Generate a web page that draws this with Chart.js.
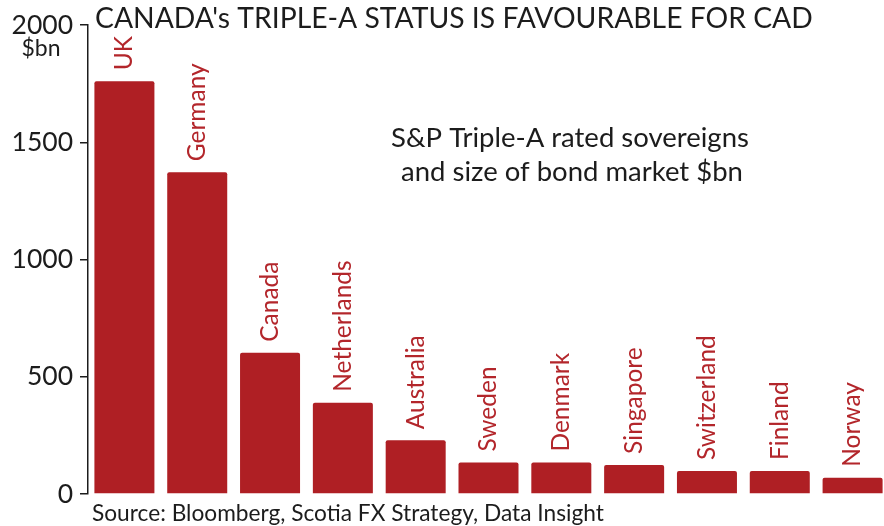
<!DOCTYPE html>
<html>
<head>
<meta charset="utf-8">
<script src="https://cdn.jsdelivr.net/npm/chart.js@4.4.1/dist/chart.umd.min.js"></script>
<style>
  html, body { margin: 0; padding: 0; background: #fff; overflow: hidden; }
  #wrap { width: 884px; height: 526px; overflow: hidden; position: relative; }
  canvas { display: block; }
</style>
</head>
<body>
<div id="wrap"><canvas id="chart" width="889" height="526"></canvas></div>
<script>
// S&P triple-A rated sovereigns, size of bond market ($bn)
const categories = ['UK', 'Germany', 'Canada', 'Netherlands', 'Australia', 'Sweden',
                    'Denmark', 'Singapore', 'Switzerland', 'Finland', 'Norway'];
const bondMarket = [1760, 1372, 602, 389, 229, 134, 134, 124, 98, 98, 69];
const yTicks = [0, 500, 1000, 1500, 2000];

const titleText = "CANADA's TRIPLE-A STATUS IS FAVOURABLE FOR CAD";
const unitText = '$bn';
const noteLines = ['S&P Triple-A rated sovereigns', 'and size of bond market $bn'];
const sourceText = 'Source: Bloomberg, Scotia FX Strategy, Data Insight';

const BAR_RED = '#AF1F24';
const LABEL_RED = '#B3262B';
const INK = '#1c1c1c';
const FONT = 'Lato, "Open Sans", sans-serif';

// Country names written vertically just above each bar
const barLabels = {
  id: 'barLabels',
  afterDatasetsDraw(chart) {
    const ctx = chart.ctx;
    const meta = chart.getDatasetMeta(0);
    ctx.save();
    ctx.fillStyle = LABEL_RED;
    ctx.font = '24.5px ' + FONT;
    ctx.textAlign = 'left';
    ctx.textBaseline = 'middle';
    meta.data.forEach((bar, i) => {
      ctx.save();
      ctx.translate(bar.x, bar.y - 11);
      ctx.rotate(-Math.PI / 2);
      ctx.fillText(chart.data.labels[i], 0, 0);
      ctx.restore();
    });
    ctx.restore();
  }
};

// Title, unit, note and source text
const chartText = {
  id: 'chartText',
  afterDraw(chart) {
    const ctx = chart.ctx;
    ctx.save();
    ctx.fillStyle = INK;
    ctx.textBaseline = 'alphabetic';

    ctx.font = '28.3px ' + FONT;
    ctx.textAlign = 'left';
    ctx.fillText(titleText, 95, 28);

    ctx.font = '23px ' + FONT;
    ctx.textAlign = 'center';
    ctx.fillText(unitText, 41, 56);

    ctx.font = '27.5px ' + FONT;
    ctx.fillText(noteLines[0], 570, 147);
    ctx.fillText(noteLines[1], 572, 181);

    ctx.font = '22.7px ' + FONT;
    ctx.textAlign = 'left';
    ctx.fillText(sourceText, 92, 521);
    ctx.restore();
  }
};

new Chart(document.getElementById('chart'), {
  type: 'bar',
  data: {
    labels: categories,
    datasets: [{
      data: bondMarket,
      backgroundColor: BAR_RED,
      borderWidth: 0,
      borderRadius: 2,
      categoryPercentage: 1,
      barPercentage: 0.824
    }]
  },
  options: {
    responsive: false,
    animation: false,
    devicePixelRatio: 1,
    layout: { padding: { top: 25, bottom: 32, left: 0, right: 0 } },
    plugins: {
      legend: { display: false },
      tooltip: { enabled: false },
      title: { display: false }
    },
    scales: {
      x: { display: false },
      y: {
        min: 0,
        max: 2000,
        afterBuildTicks(scale) { scale.ticks = yTicks.map(v => ({ value: v })); },
        afterFit(scale) { scale.width = 88; },
        border: { display: true, color: INK, width: 1.5 },
        grid: { drawOnChartArea: false, drawTicks: true, tickLength: 8, color: INK, lineWidth: 1.5 },
        ticks: {
          color: INK,
          padding: 7,
          font: { family: 'Lato', size: 26.5 },
          callback: (v) => String(v)
        }
      }
    }
  },
  plugins: [barLabels, chartText]
});
</script>
</body>
</html>
